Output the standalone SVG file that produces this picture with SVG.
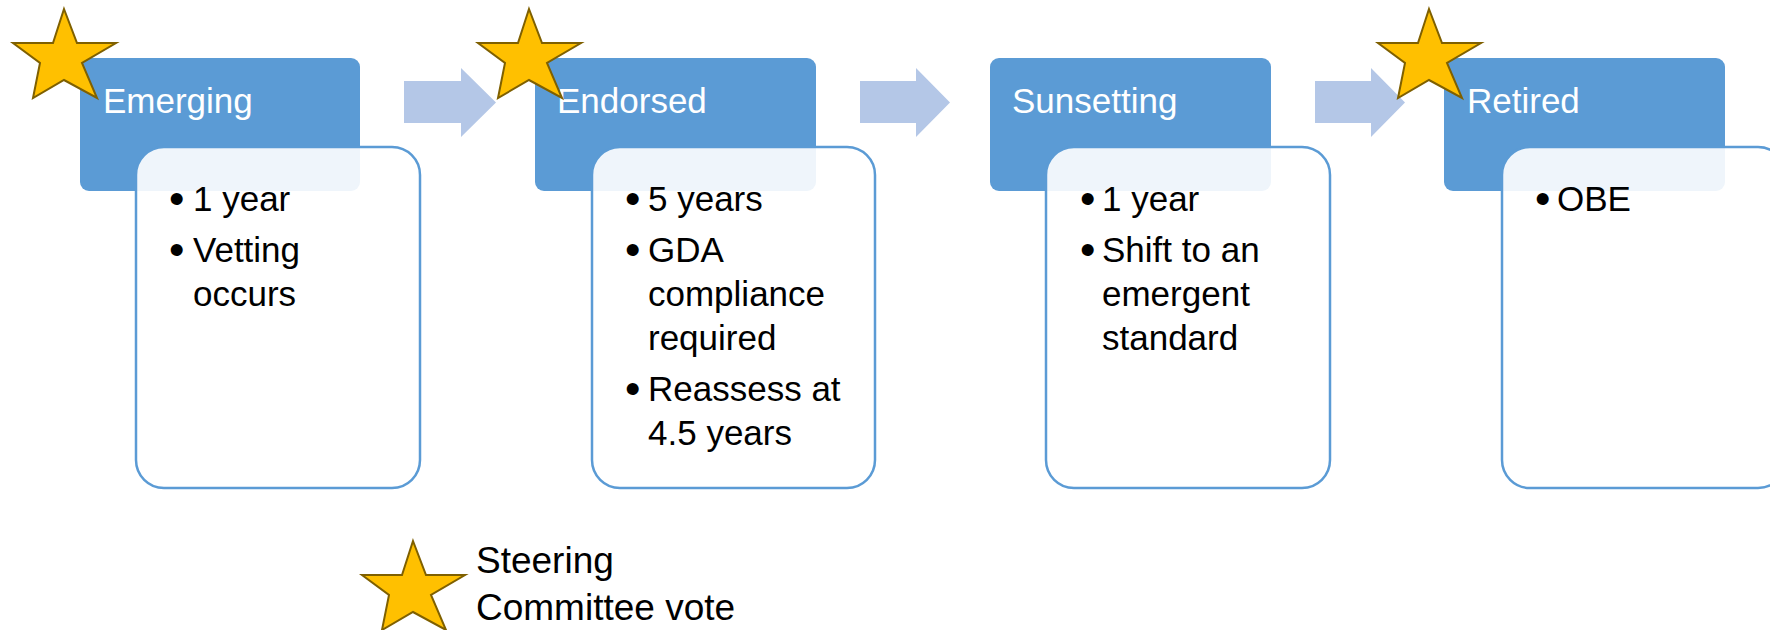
<svg xmlns="http://www.w3.org/2000/svg" xmlns:xlink="http://www.w3.org/1999/xlink" width="1770" height="630" viewBox="0 0 1770 630">
<style>
.hdr{fill:#5b9bd5;}
.det{fill:#ffffff;fill-opacity:0.9;stroke:#5b9bd5;stroke-width:2.5;}
.ht{font-family:"Liberation Sans",Arial,sans-serif;font-size:35px;fill:#ffffff;}
.bt{font-family:"Liberation Sans",Arial,sans-serif;font-size:35px;fill:#000000;}
.bul{font-family:"Liberation Sans",Arial,sans-serif;font-size:44px;fill:#000000;}
.lg{font-family:"Liberation Sans",Arial,sans-serif;font-size:37px;fill:#000000;}
.arr{fill:#b4c7e7;}
.star{fill:#ffc000;stroke:#7f6000;stroke-width:2;stroke-linejoin:miter;}
</style>
<defs>
<path id="star" class="star" d="M51,0 L64,34 L103,34 L69,54 L84,89 L51,71 L20,89 L27,54 L0,34 L40,34 Z"/>
</defs>
<rect width="1770" height="630" fill="#ffffff"/>
<g id="connectors">
<path class="arr" d="M404,81 L461,81 L461,68 L496,102.5 L461,137 L461,123 L404,123 Z"/>
<path class="arr" d="M860,81 L916,81 L916,68 L950,102.5 L916,137 L916,123 L860,123 Z"/>
<path class="arr" d="M1315,81 L1371,81 L1371,68 L1405,102.5 L1371,137 L1371,123 L1315,123 Z"/>
</g>
<g id="emerging">
<rect class="hdr" x="80" y="58" width="280" height="133" rx="9"/>
<rect class="det" x="136" y="147" width="284" height="341" rx="28"/>
<text class="ht" x="103" y="113">Emerging</text>
<text class="bul" x="169" y="213.5">•</text>
<text class="bt" x="193" y="211">1 year</text>
<text class="bul" x="169" y="264.5">•</text>
<text class="bt" x="193" y="262">Vetting</text>
<text class="bt" x="193" y="306">occurs</text>
<use xlink:href="#star" href="#star" x="13" y="9"/>
</g>
<g id="endorsed">
<rect class="hdr" x="535" y="58" width="281" height="133" rx="9"/>
<rect class="det" x="592" y="147" width="283" height="341" rx="28"/>
<text class="ht" x="557" y="113">Endorsed</text>
<text class="bul" x="625" y="213.5">•</text>
<text class="bt" x="648" y="211">5 years</text>
<text class="bul" x="625" y="264.5">•</text>
<text class="bt" x="648" y="262">GDA</text>
<text class="bt" x="648" y="306">compliance</text>
<text class="bt" x="648" y="350">required</text>
<text class="bul" x="625" y="403.5">•</text>
<text class="bt" x="648" y="401">Reassess at</text>
<text class="bt" x="648" y="445">4.5 years</text>
<use xlink:href="#star" href="#star" x="478" y="9"/>
</g>
<g id="sunsetting">
<rect class="hdr" x="990" y="58" width="281" height="133" rx="9"/>
<rect class="det" x="1046" y="147" width="284" height="341" rx="28"/>
<text class="ht" x="1012" y="113">Sunsetting</text>
<text class="bul" x="1080" y="213.5">•</text>
<text class="bt" x="1102" y="211">1 year</text>
<text class="bul" x="1080" y="264.5">•</text>
<text class="bt" x="1102" y="262">Shift to an</text>
<text class="bt" x="1102" y="306">emergent</text>
<text class="bt" x="1102" y="350">standard</text>
</g>
<g id="retired">
<rect class="hdr" x="1444" y="58" width="281" height="133" rx="9"/>
<rect class="det" x="1502" y="147" width="284" height="341" rx="28"/>
<text class="ht" x="1467" y="113">Retired</text>
<text class="bul" x="1535" y="213.5">•</text>
<text class="bt" x="1557" y="211">OBE</text>
<use xlink:href="#star" href="#star" x="1378" y="9"/>
</g>
<g id="legend">
<use xlink:href="#star" href="#star" x="362" y="541"/>
<text class="lg" x="476" y="573">Steering</text>
<text class="lg" x="476" y="620">Committee vote</text>
</g>
</svg>
